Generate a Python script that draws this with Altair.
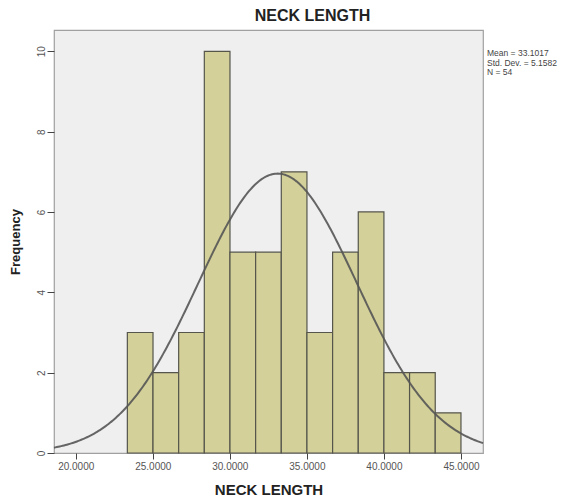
import altair as alt
import pandas as pd
import numpy as np

# Histogram values
bin_edges = [23.35, 25.015, 26.68, 28.345, 30.01, 31.675, 33.34, 35.005,
             36.67, 38.335, 40.0, 41.665, 43.33, 45.0]
counts = [3, 2, 3, 10, 5, 5, 7, 3, 5, 6, 2, 2, 1]

# Summary statistics shown in the legend
mean_val = 33.1017
sd_val = 5.1582
n_val = 54
stats_lines = ["Mean = 33.1017", "Std. Dev. = 5.1582", "N = 54"]

x_ticks = [20, 25, 30, 35, 40, 45]
y_ticks = [0, 2, 4, 6, 8, 10]
x_domain = [18.59, 46.43]
y_domain = [0, 10.53]

bars_df = pd.DataFrame({
    "start": bin_edges[:-1],
    "end": bin_edges[1:],
    "count": counts,
})

# Normal curve defined by the stated mean, std. dev. and N (scaled to bin width)
bw = (bin_edges[-1] - bin_edges[0]) / len(counts)
xs = np.linspace(x_domain[0], x_domain[1], 300)
ys = n_val * bw / (sd_val * np.sqrt(2 * np.pi)) * np.exp(-0.5 * ((xs - mean_val) / sd_val) ** 2)
curve_df = pd.DataFrame({"x": xs, "y": ys})

FONT = "Liberation Sans"

xscale = alt.Scale(domain=x_domain, nice=False, zero=False)
yscale = alt.Scale(domain=y_domain, nice=False)

bars = alt.Chart(bars_df).mark_rect(
    fill="#d4d09a", stroke="#55554c", strokeWidth=1.2
).encode(
    x=alt.X("start:Q", scale=xscale,
            axis=alt.Axis(values=x_ticks, format=".4f", title="NECK LENGTH",
                          grid=False, domain=False, tickSize=6, tickColor="#444",
                          labelFontSize=10, labelColor="#555", labelFont=FONT,
                          labelPadding=2, titleFont=FONT, titleFontSize=15,
                          titleFontWeight="bold", titleColor="#222",
                          titlePadding=11)),
    x2="end:Q",
    y=alt.Y("count:Q", scale=yscale,
            axis=alt.Axis(values=y_ticks, title="Frequency", grid=False,
                          domain=False, tickSize=7, tickColor="#444",
                          labelAngle=270, labelAlign="center", labelBaseline="bottom",
                          labelFontSize=10, labelColor="#555", labelFont=FONT,
                          labelPadding=1, titleFont=FONT, titleFontSize=13,
                          titleFontWeight="bold", titleColor="#222",
                          titlePadding=14)),
    y2=alt.datum(0),
)

curve = alt.Chart(curve_df).mark_line(
    color="#555555", strokeWidth=2, opacity=0.9
).encode(
    x=alt.X("x:Q", scale=xscale),
    y=alt.Y("y:Q", scale=yscale),
)

stats = alt.Chart(pd.DataFrame({"a": [0]})).mark_text(
    text=stats_lines, align="left", baseline="top", fontSize=8.5,
    lineHeight=9.5, font=FONT, color="#444"
).encode(
    x=alt.value(433),
    y=alt.value(19),
)

chart = alt.layer(bars, curve, stats).properties(
    width=429,
    height=423,
    background="white",
    autosize=alt.AutoSizeParams(type="none"),
    padding={"left": 46, "top": 22, "right": 92, "bottom": 43},
    title=alt.TitleParams(
        "NECK LENGTH", font=FONT, fontSize=16, fontWeight="bold",
        color="#222", anchor="middle", dx=44, offset=6
    ),
).configure_view(
    fill="#efefef", stroke="#a0a0a0", strokeWidth=1.2
)

chart.save("out.html", embed_options={"renderer": "svg", "actions": False})
